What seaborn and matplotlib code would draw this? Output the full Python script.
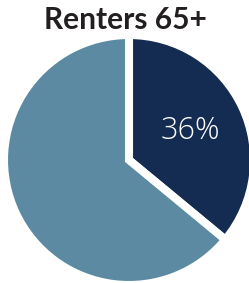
import matplotlib
matplotlib.use('Agg')
import matplotlib.pyplot as plt
import seaborn as sns

title = 'Renters 65+'
labels = ['Renters 65+', 'Other']
shares = [36, 64]
colors = ['#142c51', '#5b8aa2']

sns.set_theme(style='white')
plt.rcParams['font.family'] = ['Lato', 'DejaVu Sans']

fig = plt.figure(figsize=(2.49, 2.83), dpi=100)
# pie centre at about (129, 160) px, radius ~125 px incl. white stroke
ax = fig.add_axes([4 / 249, -2 / 283, 250 / 249, 250 / 283])
wedges, texts, autotexts = ax.pie(
    shares, colors=colors, startangle=90, counterclock=False,
    autopct=lambda p: f'{p:.0f}%' if p < 50 else '',
    pctdistance=0.54, radius=1.0,
    wedgeprops=dict(edgecolor='white', linewidth=5.8),
    textprops=dict(color='white', fontsize=22, fontweight='light',
                   family=['Open Sans', 'DejaVu Sans']))
ax.set_xlim(-1, 1)
ax.set_ylim(-1, 1)
ax.set_aspect('auto')
ax.axis('off')

fig.text(125 / 249, 1 - 20 / 283, title, ha='center', va='center',
         fontsize=21.5, fontweight='bold', color='#231f20')

fig.savefig('out.png', dpi=100)
